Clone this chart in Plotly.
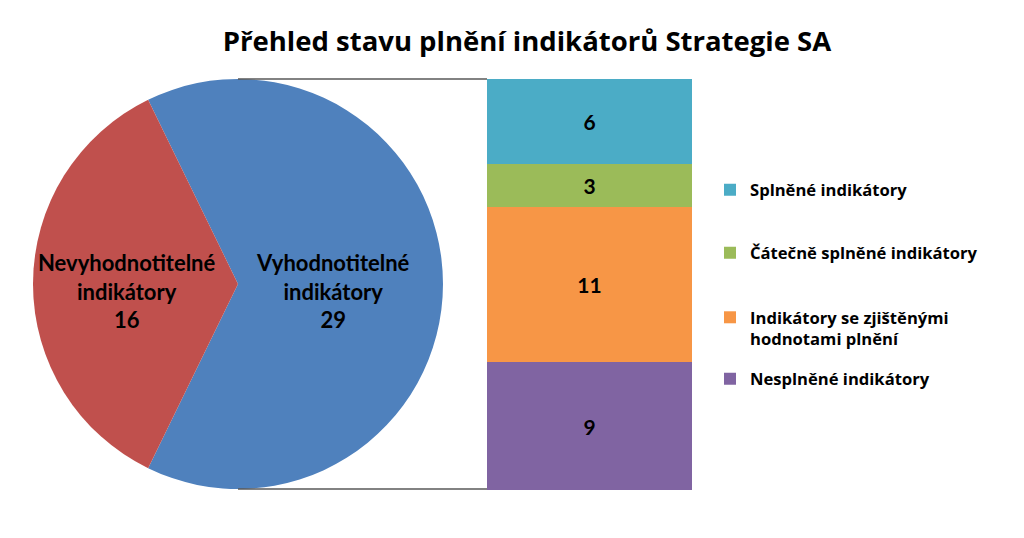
import plotly.graph_objects as go

W, H = 1024, 538

# ---- data ----
pie_labels = ["Vyhodnotitelné indikátory", "Nevyhodnotitelné indikátory"]
pie_values = [29, 16]
pie_colors = ["#4F81BD", "#C0504D"]

bar_labels = ["Nesplněné indikátory", "Indikátory se zjištěnými<br>hodnotami plnění",
              "Čátečně splněné indikátory", "Splněné indikátory"]
bar_values = [9, 11, 3, 6]
bar_colors = ["#8064A2", "#F79646", "#9BBB59", "#4BACC6"]

title_text = "Přehled stavu plnění indikátorů Strategie SA"
FONT = "Lato"
FONT2 = "Open Sans"

def px_x(x):
    return x / W

def px_y(y):
    return (H - y) / H

fig = go.Figure()

# pie
fig.add_trace(go.Pie(
    labels=pie_labels, values=pie_values,
    marker=dict(colors=pie_colors, line=dict(width=0)),
    sort=False, direction="clockwise", rotation=-26,
    textinfo="none", hoverinfo="label+value", showlegend=False,
    domain=dict(x=[px_x(33), px_x(443)], y=[px_y(489), px_y(79)]),
))

# stacked bar (bottom to top)
legend_ids = ["legend4", "legend3", "legend2", "legend"]
for name, val, col, lg in zip(bar_labels, bar_values, bar_colors, legend_ids):
    fig.add_trace(go.Bar(
        x=["SA"], y=[val], name=name, marker=dict(color=col, line=dict(width=0)),
        text=[str(val)], textposition="inside", insidetextanchor="middle",
        textfont=dict(family=FONT, size=21, color="black", weight="bold"),
        xaxis="x", yaxis="y", legend=lg, showlegend=True,
    ))

# pie labels
pie_label_pos = [(333, 291), (127, 291)]
for lab, val, (ax, ay) in zip(pie_labels, pie_values, pie_label_pos):
    first, second = lab.split(" ")
    fig.add_annotation(
        x=px_x(ax), y=px_y(ay), xref="paper", yref="paper",
        text=f"{first}<br>{second}<br>{val}", showarrow=False,
        font=dict(family=FONT, size=22, color="black", weight="bold"),
        xanchor="center", yanchor="middle",
    )

# connector lines
for yy in (79, 489):
    fig.add_shape(type="line", xref="paper", yref="paper",
                  x0=px_x(238), x1=px_x(487), y0=px_y(yy), y1=px_y(yy),
                  line=dict(color="#595959", width=1.5))

leg_common = dict(bgcolor="rgba(0,0,0,0)", borderwidth=0,
                  font=dict(family=FONT2, size=16.6, color="black", weight="bold"),
                  xanchor="left", yanchor="middle", itemclick=False)
legend_y = {"legend": 190, "legend2": 253, "legend3": 328.5, "legend4": 379}
layout_legends = {}
for k, yy in legend_y.items():
    d = dict(leg_common)
    d["x"] = px_x(710)
    d["y"] = px_y(yy)
    if k == "legend3":
        d["valign"] = "top"
    layout_legends[k] = d

fig.update_layout(
    width=W, height=H,
    margin=dict(l=0, r=0, t=0, b=0),
    paper_bgcolor="white", plot_bgcolor="white",
    title=dict(text=title_text, x=px_x(527), y=px_y(41), xanchor="center", yanchor="middle",
               font=dict(family=FONT2, size=27.5, color="black", weight="bold")),
    barmode="stack", bargap=0,
    xaxis=dict(domain=[px_x(487), px_x(692)], visible=False, range=[-0.5, 0.5]),
    yaxis=dict(domain=[px_y(490), px_y(79)], visible=False, range=[0, sum(bar_values)]),
    uniformtext=dict(minsize=21, mode="show"),
    **layout_legends,
)

fig.write_html("out.html")
